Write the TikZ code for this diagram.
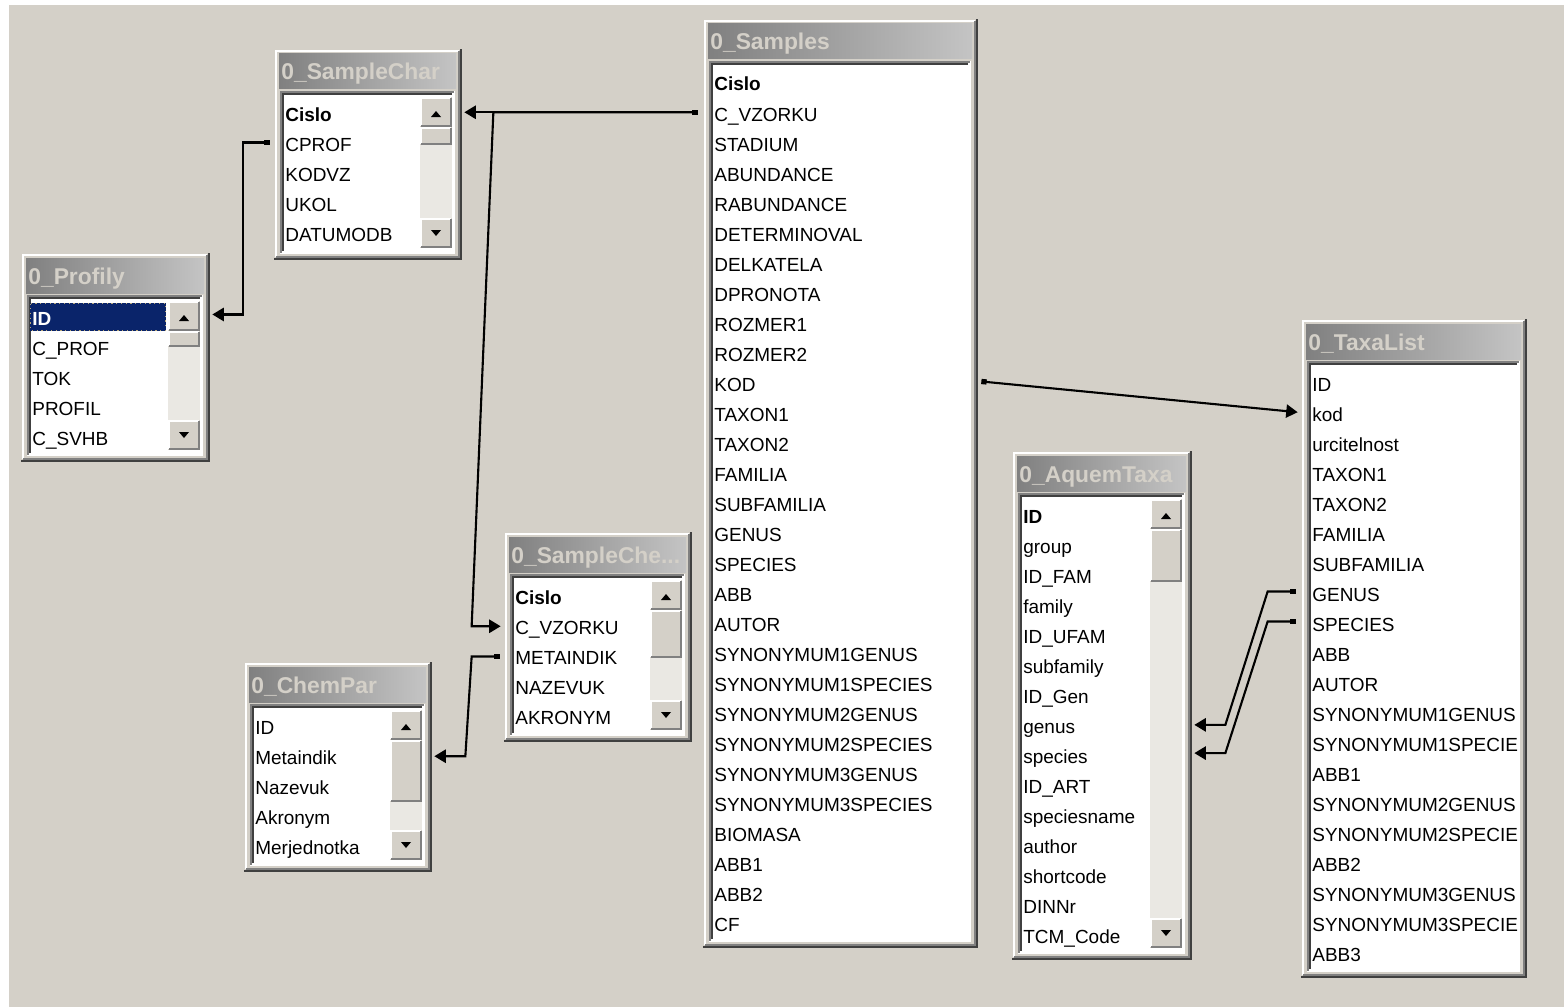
\documentclass[tikz,border=0pt]{standalone}
\usepackage{fontspec}
\setmainfont{Liberation Sans}
\usetikzlibrary{arrows.meta, calc, fit}

\definecolor{winface}{HTML}{D4D0C8}
\definecolor{winshadow}{HTML}{808080}
\definecolor{windark}{HTML}{404040}
\definecolor{captleft}{HTML}{808080}
\definecolor{captright}{HTML}{C4C4C4}
\definecolor{selblue}{HTML}{0A246A}
\definecolor{trackgray}{HTML}{EAE8E3}
\definecolor{focusdot}{HTML}{B8A878}

\tikzset{
    edge/.style={line width=1.13pt},
    tblframe/.style={inner sep=0pt, fill=winface},
    tbltitle/.style={anchor=base west, inner sep=0pt, text=winface,
        font=\fontsize{13}{14}\selectfont\bfseries},
    fieldtxt/.style={anchor=base west, inner sep=0pt,
        font=\fontsize{10.8}{12}\selectfont},
    rel/.style={line width=1.2pt,
        {Square[length=3pt, width=3pt]}-{Triangle[length=6.5pt, width=7.5pt]}}
}

% raised button: x1, y1, x2, y2
\newcommand{\rbtn}[4]{%
    \fill[winface] (#1,#2) rectangle (#3,#4);
    \draw[edge, white] (#1+1,#4-1) |- (#3-1,#2+1);
    \draw[edge, winshadow] (#1+1,#4-1) -| (#3-1,#2+1);
}

% table window: name, left, top, right, bottom, title, fields, thumb (0 = none), extra
\newcommand{\acctable}[9]{%
    \node[tblframe, fit={(#2,#3) (#4,#5)}] (#1) {};
    \draw[edge, white] (#2+3,#5-3) |- (#4-3,#3+3);
    \draw[edge, winshadow] (#2+3,#5-3) -| (#4-3,#3+3);
    \draw[edge, windark] (#2+1,#5-1) -| (#4-1,#3+1);
    % title bar
    \shade[left color=captleft, right color=captright] (#2+6,#3+6) rectangle (#4-6,#3+41);
    \begin{scope}
        \clip (#2+6,#3+6) rectangle (#4-6,#3+41);
        \node[tbltitle] (#1-title) at (#2+8,#3+32) {#6};
    \end{scope}
    % list box
    \fill[white] (#2+7,#3+43) rectangle (#4-7,#5-6);
    \draw[edge, white] (#2+8,#5-7) -| (#4-8,#3+44);
    \draw[edge, winshadow] (#2+8,#5-7) |- (#4-8,#3+44);
    \draw[edge, windark] (#2+10,#5-9) |- (#4-10,#3+46);
    \ifnum#8>0
        \def\clipr{#4-43}
    \else
        \def\clipr{#4-10}
    \fi
    #9
    \begin{scope}
        \clip (#2+11,#3+47) rectangle (\clipr,#5-9);
        \foreach \f [count=\i] in {#7}
            \node[fieldtxt] (#1-\i) at (#2+12,#3+43+30*\i) {\f};
    \end{scope}
    % scroll bar
    \ifnum#8>0
        \fill[trackgray] (#4-42,#3+49) rectangle (#4-10,#5-12);
        \rbtn{#4-42}{#3+49}{#4-10}{#3+79}
        \fill (#4-31,#3+69) -- (#4-21,#3+69) -- (#4-26,#3+63) -- cycle;
        \rbtn{#4-42}{#3+79}{#4-10}{#3+79+#8}
        \rbtn{#4-42}{#5-42}{#4-10}{#5-12}
        \fill (#4-31,#5-30) -- (#4-21,#5-30) -- (#4-26,#5-24) -- cycle;
    \fi
}

\begin{document}
\begin{tikzpicture}[x=0.02cm, y=-0.02cm]
    \useasboundingbox (0,0) rectangle (1564,1007);
    \fill[white] (0,0) rectangle (1564,1007);
    \fill[winface] (9,5) rectangle (1564,1007);

    \acctable{sch}{273}{48}{462}{260}{0\_SampleChar}
        {\textbf{Cislo}, CPROF, KODVZ, UKOL, DATUMODB}{18}{}
    \acctable{pro}{20}{252}{210}{462}{0\_Profily}
        {\textcolor{white}{\textbf{ID}}, C\_PROF, TOK, PROFIL, C\_SVHB}{16}
        {\fill[selblue] (30,303) rectangle (166,331);
         \draw[focusdot, dotted, line width=0.7pt] (30.5,303.5) rectangle (165.5,330.5);}
    \acctable{smp}{702}{18}{978}{948}{0\_Samples}
        {\textbf{Cislo}, C\_VZORKU, STADIUM, ABUNDANCE, RABUNDANCE, DETERMINOVAL,
         DELKATELA, DPRONOTA, ROZMER1, ROZMER2, KOD, TAXON1, TAXON2, FAMILIA,
         SUBFAMILIA, GENUS, SPECIES, ABB, AUTOR, SYNONYMUM1GENUS, SYNONYMUM1SPECIES,
         SYNONYMUM2GENUS, SYNONYMUM2SPECIES, SYNONYMUM3GENUS, SYNONYMUM3SPECIES,
         BIOMASA, ABB1, ABB2, CF}{0}{}
    \acctable{sce}{503}{531}{692}{742}{0\_SampleChe...}
        {\textbf{Cislo}, C\_VZORKU, METAINDIK, NAZEVUK, AKRONYM}{48}{}
    \acctable{chp}{243}{661}{432}{872}{0\_ChemPar}
        {ID, Metaindik, Nazevuk, Akronym, Merjednotka}{62}{}
    \acctable{aqt}{1011}{450}{1192}{960}{0\_AquemTaxa}
        {\textbf{ID}, group, ID\_FAM, family, ID\_UFAM, subfamily, ID\_Gen, genus,
         species, ID\_ART, speciesname, author, shortcode, DINNr, TCM\_Code}{53}{}
    \acctable{tax}{1300}{318}{1527}{978}{0\_TaxaList}
        {ID, kod, urcitelnost, TAXON1, TAXON2, FAMILIA, SUBFAMILIA, GENUS, SPECIES,
         ABB, AUTOR, SYNONYMUM1GENUS, SYNONYMUM1SPECIES, ABB1, SYNONYMUM2GENUS,
         SYNONYMUM2SPECIES, ABB2, SYNONYMUM3GENUS, SYNONYMUM3SPECIES, ABB3}{0}{}

    % relationships
    \draw[rel] ($(smp.west |- smp-2)+(-4,-4)$) -- ($(sch.east |- smp-2)+(2,-4)$);
    \draw[rel] ($(smp.west |- smp-2)+(-4,-4)$) -- ($(sch.east |- smp-2)+(31,-4)$)
        -- ($(sce.west |- sce-2)+(-31,-3)$) -- ($(sce.west |- sce-2)+(-2,-3)$);
    \draw[rel] ($(sch.west |- sch-2)+(-3,-2)$) -- ++(-27,0) |- ($(pro.east |- pro-1)+(2,-4)$);
    \draw[rel] ($(sce.west |- sce-3)+(-3,-1)$) -- ++(-28,0)
        -- ($(chp.east |- chp-2)+(33,-1)$) -- ($(chp.east |- chp-2)+(2,-1)$);
    \draw[rel] ($(smp.east |- smp-11)+(3,-3)$) -- ($(tax.west |- tax-2)+(-2,-2)$);
    \draw[rel] ($(tax.west |- tax-8)+(-4,-3)$) -- ++(-28,0)
        -- ($(aqt.east |- aqt-8)+(33,-5)$) -- ($(aqt.east |- aqt-8)+(2,-5)$);
    \draw[rel] ($(tax.west |- tax-9)+(-4,-3)$) -- ++(-28,0)
        -- ($(aqt.east |- aqt-9)+(33,-5)$) -- ($(aqt.east |- aqt-9)+(2,-5)$);
\end{tikzpicture}
\end{document}
